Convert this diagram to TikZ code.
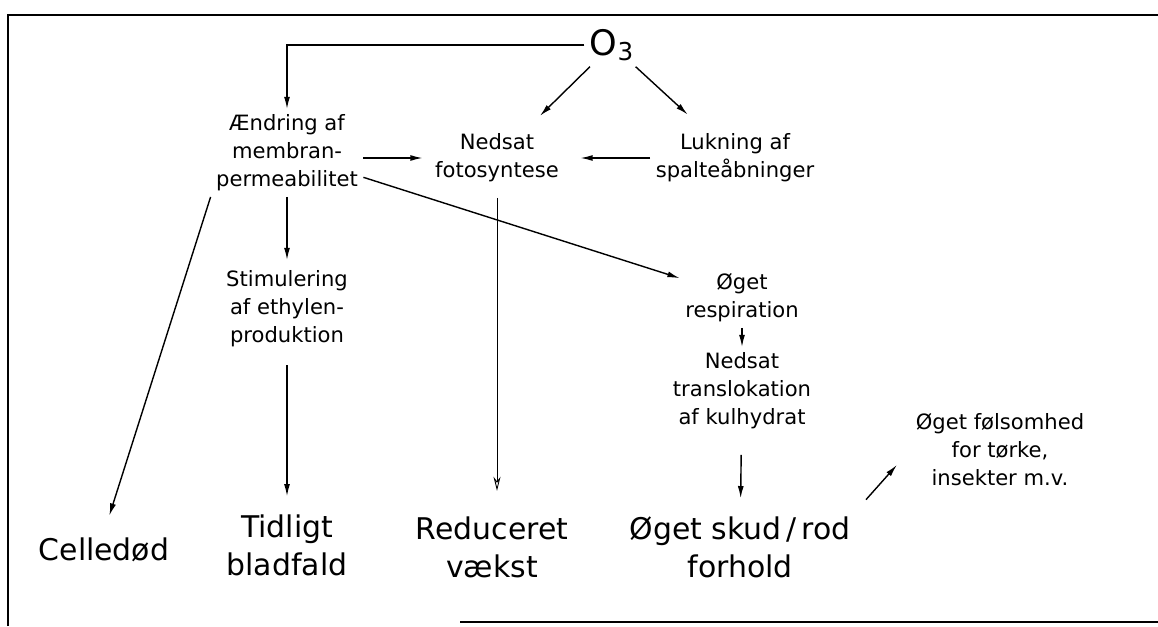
\documentclass[tikz,border=0pt]{standalone}
\usepackage{fontspec}
\setmainfont{DejaVu Sans}
\usetikzlibrary{positioning}
\usetikzlibrary{arrows.meta}
\tikzset{
    txt/.style = {align=center,inner sep=3pt,font=\fontsize{12}{16}\selectfont},
    bigtxt/.style = {align=center,inner sep=3pt,font=\fontsize{17}{21.6}\selectfont},
    frame/.style = {line width=1.1pt},
    edgen/.style = {-{Latex[length=7pt,width=3.4pt]},line width=0.8pt},
    edget/.style = {-{Stealth[open,length=8pt,width=4pt]},line width=0.5pt}, % thin one
}

\begin{document}
\begin{tikzpicture}[scale=1.00,transform shape]
\useasboundingbox (0,0) rectangle (23.16,12.52);
\draw[frame] (0.16,0.0) -- (0.16,12.22) -- (23.16,12.22);
\draw[frame] (9.2,0.08) -- (23.16,0.08);
%
\node[txt, font=\fontsize{20}{24}\selectfont] at (12.24, 11.62) (o3) {O\textsubscript{3}};
\node[txt] at (5.74, 9.46) (endring) {Ændring af\\membran-\\permeabilitet};
\node[txt] at (9.94, 9.36) (nedsat) {Nedsat\\fotosyntese};
\node[txt] at (14.70, 9.36) (lukning) {Lukning af\\spalteåbninger};
\node[txt] at (5.74, 6.34) (stimul) {Stimulering\\af ethylen-\\produktion};
\node[txt] at (14.84, 6.56) (respir) {Øget\\respiration};
\node[txt] at (14.84, 4.70) (translok) {Nedsat\\translokation\\af kulhydrat};
\node[txt] at (20.00, 3.52) (fols) {Øget følsomhed\\for tørke,\\insekter m.v.};
\node[bigtxt] at (2.08, 1.52) (celleded) {Celledød};
\node[bigtxt] at (5.74, 1.62) (tidligt) {Tidligt\\bladfald};
\node[bigtxt] at (9.84, 1.58) (reduceret) {Reduceret\\vækst};
\node[bigtxt] at (14.80, 1.58) (skud) {Øget skud\,/\,rod\\forhold};
%
\draw[edgen] (o3.west) -| (endring.north);
\draw (o3) edge[edgen,shorten >=3.5mm] (nedsat);
\draw (o3) edge[edgen,shorten >=4mm] (lukning);
\draw (endring.east |- nedsat.west) edge[edgen,shorten >=1.4mm] (nedsat.west);
\draw (lukning.west) edge[edgen,shorten >=3.2mm] (nedsat.east);
\draw (endring) edge[edgen] (respir);
\draw (endring.south west) edge[edgen,shorten >=3.5mm] (celleded.north);
\draw (endring) edge[edgen,shorten >=1mm] (stimul);
\draw (stimul) edge[edgen,shorten <=2.5mm,shorten >=2.5mm] (tidligt);
\draw (nedsat.south) edge[edget,shorten <=2mm,shorten >=4mm] (nedsat.south |- reduceret.north);
\draw (respir) edge[edgen] (translok);
\draw (translok) edge[edgen,shorten <=4mm,shorten >=2.5mm] (skud);
\draw (skud.north east) edge[edgen,shorten <=3mm,shorten >=4mm] (fols.west);

\end{tikzpicture}
\end{document}
